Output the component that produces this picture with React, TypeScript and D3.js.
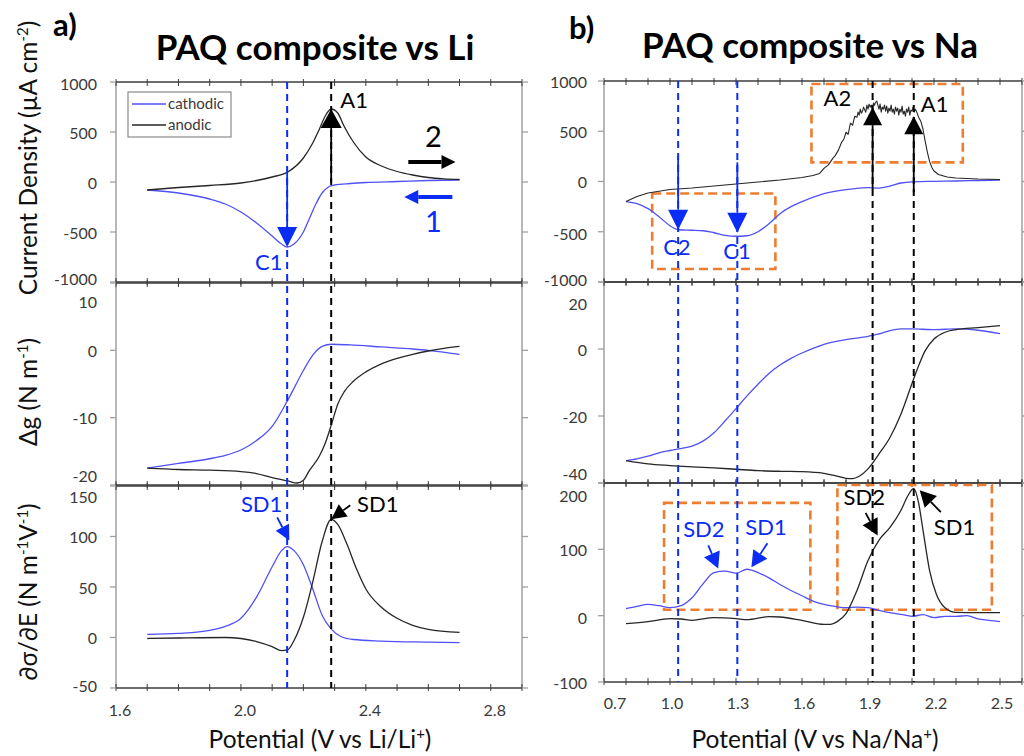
import React from "react";
import * as d3 from "d3";

// ---------- DATA ----------
// Left (Li) : potential values and series
const liCurX = [1.7, 1.8, 1.9, 1.95, 2.0, 2.05, 2.1, 2.13, 2.148, 2.17, 2.2, 2.22, 2.24, 2.26, 2.28, 2.3, 2.35, 2.4, 2.5, 2.6, 2.7];
const liCurCath = [-80, -110, -170, -220, -300, -410, -540, -620, -650, -620, -500, -360, -220, -110, -50, -30, -15, -5, 5, 15, 20];
const liCurAnX = [1.7, 1.8, 1.9, 2.0, 2.05, 2.1, 2.15, 2.2, 2.23, 2.25, 2.27, 2.289, 2.31, 2.33, 2.36, 2.4, 2.45, 2.5, 2.55, 2.6, 2.65, 2.7];
const liCurAn = [-80, -55, -35, -10, 15, 50, 100, 240, 390, 520, 660, 730, 690, 560, 400, 250, 160, 105, 70, 45, 32, 25];

const liDgCathX = [1.7, 1.8, 1.9, 1.95, 2.0, 2.05, 2.1, 2.15, 2.2, 2.23, 2.26, 2.29, 2.35, 2.45, 2.55, 2.6, 2.7];
const liDgCath = [-17.5, -16.8, -16.1, -15.6, -14.8, -13.4, -11.3, -7.4, -3, -0.7, 0.6, 0.9, 0.8, 0.5, 0.2, 0, -0.6];
const liDgAnX = [1.7, 1.8, 1.9, 2.0, 2.05, 2.1, 2.15, 2.18, 2.2, 2.22, 2.25, 2.27, 2.29, 2.31, 2.33, 2.36, 2.4, 2.45, 2.5, 2.55, 2.6, 2.65, 2.7];
const liDgAn = [-17.5, -17.7, -17.8, -18.0, -18.3, -18.9, -19.4, -19.7, -19.3, -17.8, -15.8, -13.8, -11, -8, -6.2, -4.6, -3.2, -2.0, -1.2, -0.6, -0.1, 0.3, 0.6];

const liSdCathX = [1.7, 1.8, 1.9, 1.95, 2.0, 2.05, 2.1, 2.13, 2.148, 2.17, 2.2, 2.23, 2.26, 2.29, 2.32, 2.36, 2.45, 2.6, 2.7];
const liSdCath = [3, 4, 7, 11, 19, 40, 70, 86, 90, 86, 72, 48, 22, 8, 1, -2, -3.5, -4.5, -5];
const liSdAnX = [1.7, 1.8, 1.95, 2.0, 2.05, 2.1, 2.13, 2.15, 2.17, 2.2, 2.23, 2.26, 2.289, 2.31, 2.34, 2.37, 2.4, 2.45, 2.5, 2.55, 2.6, 2.7];
const liSdAn = [-1, -0.5, 0, -1, -4, -9, -13, -12, -3, 20, 55, 95, 117, 112, 92, 68, 48, 30, 19, 12, 8, 5];

// Right (Na)
const naCurCathX = [0.8, 0.85, 0.9, 0.95, 1.0, 1.04, 1.1, 1.15, 1.2, 1.25, 1.3, 1.35, 1.4, 1.45, 1.5, 1.55, 1.6, 1.7, 1.8, 1.9, 1.95, 2.0, 2.05, 2.1, 2.2, 2.3, 2.4, 2.5];
const naCurCath = [-200, -220, -270, -350, -440, -480, -485, -490, -510, -535, -545, -540, -500, -420, -320, -250, -200, -120, -80, -60, -65, -45, -15, -3, 2, 5, 10, 15];
const naCurAnX = [0.8, 0.85, 0.9, 1.0, 1.1, 1.2, 1.3, 1.4, 1.5, 1.6, 1.65, 1.68, 1.7, 1.72, 1.74, 1.75, 1.765, 1.78, 1.79, 1.8, 1.81, 1.82, 1.83, 1.84, 1.85, 1.855, 1.86, 1.865, 1.87, 1.875, 1.88, 1.89, 1.895, 1.9, 1.905, 1.91, 1.915, 1.92, 1.925, 1.93, 1.935, 1.94, 1.945, 1.95, 1.955, 1.96, 1.965, 1.97, 1.975, 1.98, 1.985, 1.99, 1.995, 2.0, 2.005, 2.01, 2.015, 2.02, 2.025, 2.03, 2.035, 2.04, 2.045, 2.05, 2.055, 2.06, 2.065, 2.07, 2.075, 2.08, 2.085, 2.09, 2.095, 2.1, 2.105, 2.11, 2.115, 2.12, 2.13, 2.14, 2.15, 2.16, 2.17, 2.18, 2.19, 2.2, 2.22, 2.26, 2.3, 2.4, 2.5];
const naCurAn = [-200, -150, -115, -80, -65, -45, -25, -5, 15, 40, 60, 80, 130, 165, 230, 255, 310, 390, 420, 490, 470, 580, 560, 650, 640, 690, 660, 720, 680, 700, 740, 690, 760, 720, 770, 740, 760, 710, 780, 760, 790, 800, 760, 720, 770, 690, 740, 720, 760, 700, 750, 680, 730, 700, 760, 690, 720, 670, 740, 700, 730, 660, 720, 690, 750, 670, 700, 650, 720, 690, 740, 660, 710, 700, 740, 690, 720, 700, 640, 600, 520, 400, 290, 200, 140, 105, 70, 45, 35, 25, 20];

const naDgCathX = [0.8, 0.85, 0.9, 0.95, 1.0, 1.04, 1.1, 1.15, 1.2, 1.25, 1.3, 1.35, 1.4, 1.45, 1.5, 1.55, 1.6, 1.65, 1.7, 1.8, 1.9, 1.95, 2.0, 2.05, 2.1, 2.2, 2.3, 2.4, 2.5];
const naDgCath = [-33.3, -32.8, -32, -31, -30.3, -29.8, -29, -27.5, -25, -21.5, -17.8, -14, -10.5, -7.3, -4.8, -2.8, -1.2, 0.2, 1.4, 2.8, 3.8, 4.5, 5.5, 6.0, 6.0, 5.8, 6.0, 5.6, 4.6];
const naDgAnX = [0.8, 0.9, 1.0, 1.1, 1.2, 1.3, 1.4, 1.5, 1.6, 1.7, 1.75, 1.8, 1.83, 1.86, 1.9, 1.95, 2.0, 2.05, 2.1, 2.13, 2.16, 2.2, 2.25, 2.3, 2.4, 2.5];
const naDgAn = [-33.3, -34.3, -34.8, -35.2, -35.5, -35.9, -36.3, -36.5, -36.6, -37.1, -37.8, -38.6, -38.7, -38, -35.8, -31.3, -26.4, -19.4, -10.3, -5, -0.5, 3, 5, 5.8, 6.4, 7];

const naSdCathX = [0.8, 0.85, 0.9, 0.95, 1.0, 1.05, 1.1, 1.15, 1.2, 1.25, 1.3, 1.35, 1.4, 1.45, 1.5, 1.55, 1.6, 1.65, 1.7, 1.75, 1.8, 1.85, 1.9, 1.95, 2.0, 2.05, 2.1, 2.15, 2.2, 2.25, 2.3, 2.35, 2.4, 2.45, 2.5];
const naSdCath = [10.6, 14, 17, 15, 12, 15, 27, 48, 65, 67, 64, 70, 65, 57, 47, 38, 30, 22, 17, 14, 12, 13, 12, 8, 4.5, 2, -1, 1.5, -3, -1, -1, 0, -5, -7, -9];
const naSdAnX = [0.8, 0.9, 1.0, 1.05, 1.1, 1.2, 1.3, 1.35, 1.45, 1.5, 1.6, 1.7, 1.73, 1.76, 1.8, 1.85, 1.9, 1.95, 2.0, 2.05, 2.08, 2.108, 2.13, 2.15, 2.18, 2.21, 2.25, 2.3, 2.4, 2.5];
const naSdAn = [-12, -9, -4.5, -5, -7, -3, -4.5, -6, -1.5, -2, -7, -13, -13, -9, 3, 38, 83, 114, 133, 159, 180, 192, 170, 129, 68, 33, 12, 5, 4.5, 4.5];

// Tick values
const liXTicks = [1.6, 2.0, 2.4, 2.8];
const naXTicks = [0.7, 1.0, 1.3, 1.6, 1.9, 2.2, 2.5];
const curTicks = [1000, 500, 0, -500, -1000];
const liDgTicks = [10, 0, -10, -20];
const liSdTicks = [150, 100, 50, 0, -50];
const naDgTicks = [20, 0, -20, -40];
const naSdTicks = [200, 100, 0, -100];

// Peak markers (dashed verticals)
const liCathPeaks = [2.148];
const liAnPeaks = [2.289];
const naCathPeaks = [1.037, 1.306];
const naAnPeaks = [1.921, 2.108];

// ---------- STYLE ----------
const FONT = "Lato, 'Open Sans', sans-serif";
const BLUE_LINE = "#5050f5";
const BLUE = "#0a2cf5";
const BLACK_LINE = "#262626";
const ORANGE = "#ED7D31";
const HFRAME = "#3c3c3c";
const VFRAME = "#a0a0a0";
const TICKTXT = "#3a3a3a";

type Sub = { top: number; bottom: number; domain: [number, number]; ticks: number[]; shifts: number[] };

const leftX = d3.scaleLinear().domain([1.6, 2.9]).range([116, 522]);
const rightX = d3.scaleLinear().domain([0.7, 2.6]).range([604, 1022]);

const leftSubs: Sub[] = [
  { top: 82, bottom: 282, domain: [-1000, 1000], ticks: curTicks, shifts: [1, 0, 0, 0, -4] },
  { top: 283, bottom: 485, domain: [-20, 10], ticks: liDgTicks, shifts: [18, 0, 0, -10] },
  { top: 486, bottom: 688, domain: [-50, 150], ticks: liSdTicks, shifts: [10, 0, 0, 0, -3] },
];
const rightSubs: Sub[] = [
  { top: 81, bottom: 282, domain: [-1000, 1000], ticks: curTicks, shifts: [0, 0, 0, 2, -3] },
  { top: 282, bottom: 483, domain: [-40, 20], ticks: naDgTicks, shifts: [21, 0, 0, -10] },
  { top: 483, bottom: 682, domain: [-100, 200], ticks: naSdTicks, shifts: [12, 0, 2, 0] },
];

const ys = (s: Sub) => d3.scaleLinear().domain(s.domain).range([s.bottom, s.top]);

function Arrow({ x1, y1, x2, y2, color, w = 1.6, hl = 18, hw = 18 }: any) {
  const dx = x2 - x1, dy = y2 - y1;
  const L = Math.hypot(dx, dy);
  const ux = dx / L, uy = dy / L;
  const bx = x2 - ux * hl, by = y2 - uy * hl;
  const px = -uy * hw / 2, py = ux * hw / 2;
  return (
    <g>
      <line x1={x1} y1={y1} x2={bx} y2={by} stroke={color} strokeWidth={w} />
      <polygon points={`${x2},${y2} ${bx + px},${by + py} ${bx - px},${by - py}`} fill={color} />
    </g>
  );
}

function Line({ xs, vs, x, y, color, curve = true }: any) {
  const pts = xs.map((xv: number, i: number) => [x(xv), y(vs[i])] as [number, number]);
  const gen = curve ? d3.line().curve(d3.curveMonotoneX) : d3.line();
  return <path d={gen(pts) || ""} fill="none" stroke={color} strokeWidth={curve ? 1.3 : 1.1} strokeLinejoin="round" />;
}

function Frame({ x, sub, minor, side }: { x: any; sub: Sub; minor: number[]; side: string }) {
  const y = ys(sub);
  const [x0, x1] = x.range();
  return (
    <g>
      <line x1={x0} x2={x0} y1={sub.top} y2={sub.bottom} stroke={VFRAME} strokeWidth={1.5} />
      <line x1={x1} x2={x1} y1={sub.top} y2={sub.bottom} stroke={VFRAME} strokeWidth={1.5} />
      <line x1={x0} x2={x1} y1={sub.top} y2={sub.top} stroke={HFRAME} strokeWidth={1.3} />
      <line x1={x0} x2={x1} y1={sub.bottom} y2={sub.bottom} stroke={HFRAME} strokeWidth={1.3} />
      {minor.map((m, i) => (
        <g key={i}>
          <line x1={x(m)} x2={x(m)} y1={sub.top - 3} y2={sub.top + 4} stroke={HFRAME} strokeWidth={1} />
          <line x1={x(m)} x2={x(m)} y1={sub.bottom - 4} y2={sub.bottom + 3} stroke={HFRAME} strokeWidth={1} />
        </g>
      ))}
      {sub.ticks.map((t, i) => (
        <g key={"t" + i}>
          <line x1={x0 - 6} x2={x0} y1={y(t)} y2={y(t)} stroke={VFRAME} strokeWidth={1.3} />
          <line x1={x1} x2={x1 + 6} y1={y(t)} y2={y(t)} stroke={VFRAME} strokeWidth={1.3} />
          <text x={x0 - (side === "left" ? 19 : 17)} y={y(t) + sub.shifts[i]} textAnchor="end" dominantBaseline="central"
            fontFamily={FONT} fontSize={16} fill={TICKTXT}>{t}</text>
        </g>
      ))}
    </g>
  );
}

function Box({ x, y, xa, xb, ya, yb }: any) {
  return <rect x={x(xa)} y={y(ya)} width={x(xb) - x(xa)} height={y(yb) - y(ya)} fill="none" stroke={ORANGE} strokeWidth={2.6} strokeDasharray="9,5" />;
}

export default function App() {
  const liMinor = d3.range(16, 30).map((v) => v / 10);
  const naMinor = d3.range(7, 27).map((v) => v / 10);
  const [lT, lM, lB] = leftSubs.map(ys);
  const [rT, rM, rB] = rightSubs.map(ys);
  const fmt = d3.format(".1f");

  return (
    <svg width={1024} height={756} style={{ position: "absolute", left: 0, top: 0, background: "#fff" }}>
      <rect width={1024} height={756} fill="#fff" />
      {/* Titles */}
      <text x={53} y={36} fontFamily={FONT} fontWeight="bold" fontSize={31} fill="#000">a)</text>
      <text x={315} y={60} textAnchor="middle" fontFamily={FONT} fontWeight="bold" fontSize={35} fill="#000">PAQ composite vs Li</text>
      <text x={569} y={39} fontFamily={FONT} fontWeight="bold" fontSize={31} fill="#000">b)</text>
      <text x={810} y={58} textAnchor="middle" fontFamily={FONT} fontWeight="bold" fontSize={35} fill="#000">PAQ composite vs Na</text>

      {/* Frames */}
      {leftSubs.map((s, i) => <Frame key={"l" + i} x={leftX} sub={s} minor={liMinor} side="left" />)}
      {rightSubs.map((s, i) => <Frame key={"r" + i} x={rightX} sub={s} minor={naMinor} side="right" />)}

      {/* X tick labels */}
      {liXTicks.map((v) => (
        <text key={"lx" + v} x={leftX(v) + 4} y={716} textAnchor="middle" fontFamily={FONT} fontSize={16} fill={TICKTXT}>{fmt(v)}</text>
      ))}
      {naXTicks.map((v, i) => (
        <text key={"rx" + v} x={rightX(v) + (i === 0 ? 11 : 2)} y={709} textAnchor="middle" fontFamily={FONT} fontSize={16} fill={TICKTXT}>{fmt(v)}</text>
      ))}

      {/* Axis titles */}
      <text x={320} y={748} textAnchor="middle" fontFamily={FONT} fontSize={24.5} fill="#111">Potential (V vs Li/Li<tspan dy={-9} fontSize={15}>+</tspan><tspan dy={9}>)</tspan></text>
      <text x={815} y={748} textAnchor="middle" fontFamily={FONT} fontSize={24.5} fill="#111">Potential (V vs Na/Na<tspan dy={-9} fontSize={15}>+</tspan><tspan dy={9}>)</tspan></text>
      <text transform="translate(37,158) rotate(-90)" textAnchor="middle" fontFamily={FONT} fontSize={24.5} fill="#111">Current Density (µA cm<tspan dy={-9} fontSize={15}>-2</tspan><tspan dy={9}>)</tspan></text>
      <text transform="translate(37,392) rotate(-90)" textAnchor="middle" fontFamily={FONT} fontSize={24.5} fill="#111">Δg (N m<tspan dy={-9} fontSize={15}>-1</tspan><tspan dy={9}>)</tspan></text>
      <text transform="translate(37,592) rotate(-90)" textAnchor="middle" fontFamily={FONT} fontSize={24.5} fill="#111">∂σ/∂E (N m<tspan dy={-9} fontSize={15}>-1</tspan><tspan dy={9}>V</tspan><tspan dy={-9} fontSize={15}>-1</tspan><tspan dy={9}>)</tspan></text>

      {/* Orange boxes */}
      <Box x={rightX} y={rT} xa={1.643} xb={2.331} ya={970} yb={190} />
      <Box x={rightX} y={rT} xa={0.919} xb={1.479} ya={-120} yb={-870} />
      <Box x={rightX} y={rB} xa={0.973} xb={1.638} ya={170} yb={9} />
      <Box x={rightX} y={rB} xa={1.761} xb={2.463} ya={197} yb={9} />

      {/* Curves left */}
      <Line xs={liCurX} vs={liCurCath} x={leftX} y={lT} color={BLUE_LINE} />
      <Line xs={liCurAnX} vs={liCurAn} x={leftX} y={lT} color={BLACK_LINE} />
      <Line xs={liDgCathX} vs={liDgCath} x={leftX} y={lM} color={BLUE_LINE} />
      <Line xs={liDgAnX} vs={liDgAn} x={leftX} y={lM} color={BLACK_LINE} />
      <Line xs={liSdCathX} vs={liSdCath} x={leftX} y={lB} color={BLUE_LINE} />
      <Line xs={liSdAnX} vs={liSdAn} x={leftX} y={lB} color={BLACK_LINE} />
      {/* Curves right */}
      <Line xs={naCurCathX} vs={naCurCath} x={rightX} y={rT} color={BLUE_LINE} />
      <Line xs={naCurAnX} vs={naCurAn} x={rightX} y={rT} color={BLACK_LINE} curve={false} />
      <Line xs={naDgCathX} vs={naDgCath} x={rightX} y={rM} color={BLUE_LINE} />
      <Line xs={naDgAnX} vs={naDgAn} x={rightX} y={rM} color={BLACK_LINE} />
      <Line xs={naSdCathX} vs={naSdCath} x={rightX} y={rB} color={BLUE_LINE} />
      <Line xs={naSdAnX} vs={naSdAn} x={rightX} y={rB} color={BLACK_LINE} />

      {/* Dashed verticals */}
      {liCathPeaks.map((p) => <line key={"lc" + p} x1={leftX(p)} x2={leftX(p)} y1={82} y2={688} stroke={BLUE} strokeWidth={2} strokeDasharray="7,5" />)}
      {liAnPeaks.map((p) => <line key={"la" + p} x1={leftX(p)} x2={leftX(p)} y1={82} y2={688} stroke="#000" strokeWidth={2} strokeDasharray="7,5" />)}
      {naCathPeaks.map((p) => <line key={"rc" + p} x1={rightX(p)} x2={rightX(p)} y1={81} y2={682} stroke={BLUE} strokeWidth={2} strokeDasharray="7,5" />)}
      {naAnPeaks.map((p) => <line key={"ra" + p} x1={rightX(p)} x2={rightX(p)} y1={81} y2={682} stroke="#000" strokeWidth={2} strokeDasharray="7,5" />)}

      {/* Legend */}
      <rect x={128} y={92} width={103} height={45} fill="#fff" stroke="#8a8a8a" strokeWidth={1.2} />
      <line x1={132} x2={166} y1={104} y2={104} stroke={BLUE_LINE} strokeWidth={1.3} />
      <text x={168} y={109} fontFamily={FONT} fontSize={15} fill={TICKTXT}>cathodic</text>
      <line x1={132} x2={166} y1={125} y2={125} stroke={BLACK_LINE} strokeWidth={1.3} />
      <text x={168} y={130} fontFamily={FONT} fontSize={15} fill={TICKTXT}>anodic</text>

      {/* Left top annotations */}
      <Arrow x1={leftX(2.148)} y1={lT(100)} x2={leftX(2.148)} y2={lT(-650)} color={BLUE} w={1.8} hl={20} hw={20} />
      <Arrow x1={leftX(2.289)} y1={lT(-10)} x2={leftX(2.289)} y2={lT(730)} color="#000" w={1.8} hl={19} hw={21} />
      <text x={leftX(2.318)} y={lT(740)} fontFamily={FONT} fontSize={22} fill="#000">A1</text>
      <text x={leftX(2.045)} y={lT(-880)} fontFamily={FONT} fontSize={22} fill={BLUE}>C1</text>
      <Arrow x1={leftX(2.536)} y1={lT(200)} x2={leftX(2.687)} y2={lT(200)} color="#000" w={4} hl={14} hw={14} />
      <Arrow x1={leftX(2.677)} y1={lT(-150)} x2={leftX(2.523)} y2={lT(-150)} color={BLUE} w={4} hl={14} hw={14} />
      <text x={leftX(2.616)} y={lT(350)} textAnchor="middle" fontFamily={FONT} fontSize={29} fill="#000">2</text>
      <text x={leftX(2.616)} y={lT(-500)} textAnchor="middle" fontFamily={FONT} fontSize={29} fill={BLUE}>1</text>

      {/* Left bottom annotations */}
      <text x={leftX(2.0)} y={lB(124)} fontFamily={FONT} fontSize={22} fill={BLUE}>SD1</text>
      <Arrow x1={leftX(2.116)} y1={lB(119)} x2={leftX(2.155)} y2={lB(96)} color={BLUE} w={1.8} hl={15} hw={15} />
      <text x={leftX(2.372)} y={lB(124)} fontFamily={FONT} fontSize={22} fill="#000">SD1</text>
      <Arrow x1={leftX(2.35)} y1={lB(131)} x2={leftX(2.289)} y2={lB(117)} color="#000" w={1.8} hl={15} hw={15} />

      {/* Right top annotations */}
      <Arrow x1={rightX(1.037)} y1={rT(250)} x2={rightX(1.037)} y2={rT(-480)} color={BLUE} w={1.8} hl={20} hw={20} />
      <Arrow x1={rightX(1.306)} y1={rT(190)} x2={rightX(1.306)} y2={rT(-510)} color={BLUE} w={1.8} hl={20} hw={20} />
      <Arrow x1={rightX(1.921)} y1={rT(-80)} x2={rightX(1.921)} y2={rT(740)} color="#000" w={1.8} hl={18} hw={19} />
      <Arrow x1={rightX(2.108)} y1={rT(-110)} x2={rightX(2.108)} y2={rT(650)} color="#000" w={1.8} hl={18} hw={19} />
      <text x={rightX(1.698)} y={rT(750)} fontFamily={FONT} fontSize={22} fill="#000">A2</text>
      <text x={rightX(2.14)} y={rT(690)} fontFamily={FONT} fontSize={22} fill="#000">A1</text>
      <text x={rightX(0.969)} y={rT(-730)} fontFamily={FONT} fontSize={22} fill={BLUE}>C2</text>
      <text x={rightX(1.242)} y={rT(-770)} fontFamily={FONT} fontSize={22} fill={BLUE}>C1</text>

      {/* Right bottom annotations */}
      <text x={rightX(1.06)} y={rB(118)} fontFamily={FONT} fontSize={22} fill={BLUE}>SD2</text>
      <text x={rightX(1.342)} y={rB(121)} fontFamily={FONT} fontSize={22} fill={BLUE}>SD1</text>
      <Arrow x1={rightX(1.174)} y1={rB(106)} x2={rightX(1.219)} y2={rB(71)} color={BLUE} w={1.8} hl={16} hw={17} />
      <Arrow x1={rightX(1.443)} y1={rB(109)} x2={rightX(1.37)} y2={rB(73)} color={BLUE} w={1.8} hl={16} hw={17} />
      <text x={rightX(1.789)} y={rB(167)} fontFamily={FONT} fontSize={22} fill="#000">SD2</text>
      <Arrow x1={rightX(1.889)} y1={rB(155)} x2={rightX(1.944)} y2={rB(121)} color="#000" w={1.8} hl={16} hw={17} />
      <text x={rightX(2.199)} y={rB(121)} fontFamily={FONT} fontSize={22} fill="#000">SD1</text>
      <Arrow x1={rightX(2.231)} y1={rB(156)} x2={rightX(2.135)} y2={rB(189)} color="#000" w={1.8} hl={16} hw={17} />
    </svg>
  );
}
